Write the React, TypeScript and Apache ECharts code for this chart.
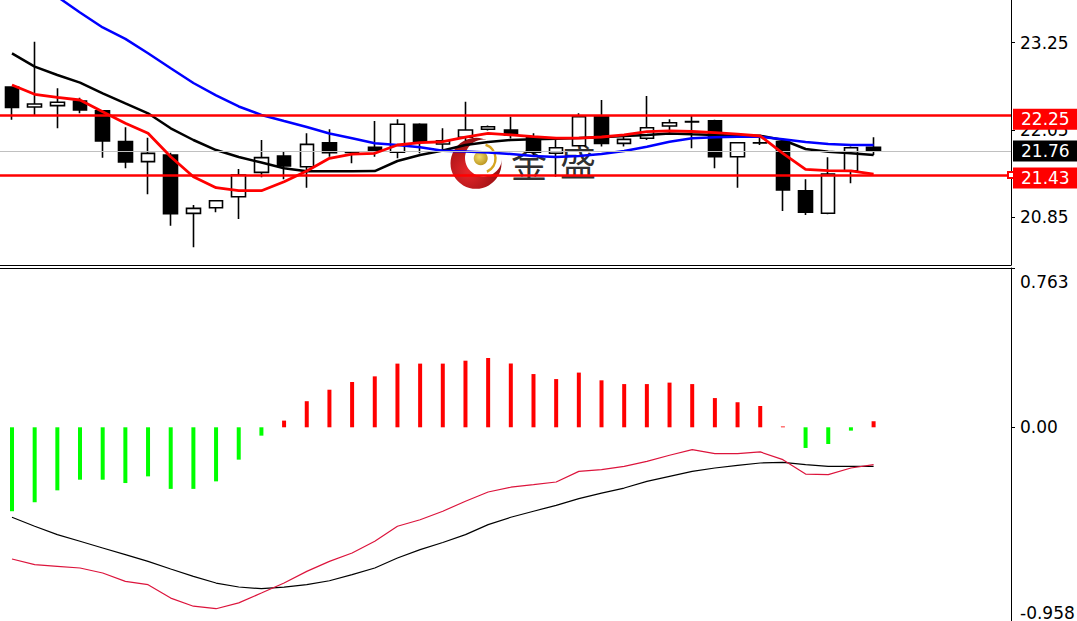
import React, { useEffect, useRef } from "react";
import * as echarts from "echarts";

// ---- price candles ----
const opens = [22.64, 22.365, 22.383, 22.447, 22.314, 21.888, 21.613, 21.705, 20.902, 20.98, 21.131, 21.466, 21.691, 21.544, 21.874, 21.746, 21.81, 21.742, 22.127, 21.856, 21.948, 22.058, 22.048, 21.956, 21.728, 21.832, 22.231, 21.865, 21.934, 22.103, 22.163, 22.176, 21.681, 21.874, 21.888, 21.214, 20.903, 21.489, 21.81];
const closes = [22.36, 22.406, 22.429, 22.323, 21.897, 21.608, 21.727, 20.898, 20.971, 21.076, 21.43, 21.668, 21.553, 21.851, 21.736, 21.74, 21.764, 22.127, 21.887, 21.901, 22.048, 22.094, 21.98, 21.743, 21.805, 22.231, 21.865, 21.92, 22.08, 22.149, 22.16, 21.681, 21.874, 21.87, 21.223, 20.917, 21.443, 21.805, 21.759];
const lows = [22.19, 22.255, 22.072, 22.278, 21.667, 21.521, 21.164, 20.733, 20.435, 20.917, 20.824, 21.398, 21.37, 21.255, 21.682, 21.59, 21.682, 21.659, 21.728, 21.75, 21.9, 22.04, 21.93, 21.7, 21.406, 21.82, 21.82, 21.82, 21.91, 22.011, 21.797, 21.522, 21.255, 21.842, 20.934, 20.879, 20.889, 21.315, 21.705];
const highs = [22.65, 23.263, 22.622, 22.493, 22.32, 22.085, 21.943, 21.737, 21.017, 21.08, 21.512, 21.911, 21.759, 22.002, 22.057, 21.76, 22.172, 22.196, 22.14, 22.072, 22.438, 22.11, 22.231, 22.002, 21.92, 22.278, 22.461, 21.957, 22.516, 22.195, 22.241, 22.19, 21.88, 21.966, 21.9, 21.37, 21.673, 21.82, 21.948];

// ---- moving averages ----
const maRed = [22.667, 22.539, 22.498, 22.461, 22.3, 22.14, 22.003, 21.681, 21.406, 21.255, 21.214, 21.214, 21.337, 21.485, 21.659, 21.718, 21.728, 21.842, 21.874, 21.887, 21.952, 22.003, 21.98, 21.956, 21.938, 21.938, 21.952, 21.98, 22.025, 22.035, 22.028, 22.011, 21.993, 21.966, 21.728, 21.508, 21.489, 21.485, 21.443];
const maBlack = [23.103, 22.919, 22.805, 22.699, 22.553, 22.415, 22.278, 22.072, 21.911, 21.773, 21.677, 21.601, 21.522, 21.48, 21.48, 21.48, 21.484, 21.622, 21.705, 21.766, 21.842, 21.883, 21.911, 21.92, 21.929, 21.938, 21.948, 21.966, 21.98, 22.0, 21.989, 21.98, 21.97, 21.97, 21.911, 21.787, 21.75, 21.728, 21.705];
const maBlue = [24.32, 24.1, 23.881, 23.664, 23.458, 23.302, 23.104, 22.898, 22.695, 22.525, 22.372, 22.255, 22.172, 22.09, 22.0, 21.934, 21.865, 21.842, 21.81, 21.764, 21.753, 21.739, 21.718, 21.691, 21.677, 21.691, 21.718, 21.76, 21.819, 21.887, 21.934, 21.948, 21.956, 21.956, 21.92, 21.883, 21.856, 21.842, 21.842];

// ---- MACD ----
const macdHist = [-0.402, -0.359, -0.302, -0.251, -0.251, -0.267, -0.235, -0.295, -0.295, -0.259, -0.155, -0.04, 0.032, 0.125, 0.18, 0.217, 0.244, 0.305, 0.305, 0.305, 0.319, 0.332, 0.305, 0.255, 0.231, 0.262, 0.225, 0.207, 0.207, 0.214, 0.207, 0.14, 0.12, 0.102, 0.004, -0.099, -0.08, -0.016, 0.029];
const macdBlack = [-0.431, -0.474, -0.514, -0.546, -0.578, -0.61, -0.642, -0.679, -0.714, -0.746, -0.765, -0.773, -0.766, -0.754, -0.735, -0.706, -0.674, -0.626, -0.586, -0.552, -0.514, -0.466, -0.431, -0.402, -0.374, -0.342, -0.315, -0.291, -0.259, -0.235, -0.211, -0.195, -0.182, -0.171, -0.168, -0.179, -0.187, -0.187, -0.187];
const macdPink = [-0.631, -0.658, -0.666, -0.674, -0.698, -0.738, -0.754, -0.818, -0.857, -0.869, -0.841, -0.794, -0.746, -0.69, -0.642, -0.602, -0.546, -0.474, -0.443, -0.402, -0.354, -0.31, -0.287, -0.275, -0.262, -0.211, -0.203, -0.187, -0.163, -0.134, -0.107, -0.126, -0.126, -0.118, -0.155, -0.224, -0.227, -0.195, -0.179];

// ---- axes / levels ----
const priceTicks = [20.85, 22.05, 23.25];
const macdTicks = [-0.958, 0, 0.763];
const resistance = 22.25;
const support = 21.43;
const lastPrice = 21.76;
const PRICE_MIN = 20.192;
const PRICE_MAX = 23.836;
const MACD_MIN = -0.958;
const MACD_MAX = 0.763;
const X_MIN = -0.529;
const X_MAX = 44.06;

const FONT = "DejaVu Sans";

export default function App() {
  const ref = useRef<HTMLDivElement>(null);

  useEffect(() => {
    if (!ref.current) return;
    const chart = echarts.init(ref.current, null, { renderer: "svg" });

    const candleData = opens.map((o, i) => [i, o, closes[i], lows[i], highs[i]]);
    const toXY = (arr: number[]) => arr.map((v, i) => [i, v]);

    const levelLabel = (txt: string, bg: string, dy: number) => ({
      show: true,
      position: "end",
      distance: 2,
      formatter: txt,
      color: "#ffffff",
      backgroundColor: bg,
      fontFamily: FONT,
      fontSize: 17,
      lineHeight: 17,
      padding: [2, 14, 2, 8],
      offset: [0, dy],
      textBorderWidth: 0,
    });

    const option: any = {
      animation: false,
      backgroundColor: "#ffffff",
      grid: [
        { left: 0, right: 66, top: 0, height: 265, containLabel: false, outerBoundsMode: "none" },
        { left: 0, right: 66, top: 268, height: 359.3, containLabel: false, outerBoundsMode: "none" },
      ],
      xAxis: [
        {
          type: "value", gridIndex: 0, min: X_MIN, max: X_MAX, position: "bottom",
          axisLine: { show: true, onZero: false, lineStyle: { color: "#000", width: 1 } },
          axisTick: { show: false }, axisLabel: { show: false }, splitLine: { show: false },
        },
        {
          type: "value", gridIndex: 1, min: X_MIN, max: X_MAX, position: "top",
          axisLine: { show: true, onZero: false, lineStyle: { color: "#000", width: 1 } },
          axisTick: { show: false }, axisLabel: { show: false }, splitLine: { show: false },
        },
      ],
      yAxis: [
        {
          type: "value", gridIndex: 0, position: "right", min: PRICE_MIN, max: PRICE_MAX,
          axisLine: { show: true, onZero: false, lineStyle: { color: "#000", width: 1 } },
          axisTick: { show: true, length: 4, customValues: priceTicks, lineStyle: { color: "#000" } },
          axisLabel: {
            customValues: priceTicks, formatter: (v: number) => v.toFixed(2),
            color: "#000", fontFamily: FONT, fontSize: 17, margin: 9,
          },
          splitLine: { show: false },
        },
        {
          type: "value", gridIndex: 1, position: "right", min: MACD_MIN, max: MACD_MAX,
          axisLine: { show: true, onZero: false, lineStyle: { color: "#000", width: 1 } },
          axisTick: { show: true, length: 4, customValues: macdTicks, lineStyle: { color: "#000" } },
          axisLabel: {
            customValues: macdTicks,
            formatter: (v: number) => {
              if (Math.abs(v - MACD_MAX) < 1e-6) return "{t|" + v.toFixed(3) + "}";
              if (Math.abs(v - MACD_MIN) < 1e-6) return "{b|" + v.toFixed(3) + "}";
              return "{m|" + v.toFixed(2) + "}";
            },
            color: "#000", fontFamily: FONT, fontSize: 17, margin: 9,
            rich: {
              t: { fontFamily: FONT, fontSize: 17, color: "#000", padding: [27, 0, 0, 0] },
              b: { fontFamily: FONT, fontSize: 17, color: "#000", padding: [0, 0, 28, 0] },
              m: { fontFamily: FONT, fontSize: 17, color: "#000" },
            },
          },
          splitLine: { show: false },
        },
      ],
      series: [
        {
          type: "candlestick",
          name: "price",
          xAxisIndex: 0, yAxisIndex: 0,
          data: candleData,
          encode: { x: 0, y: [1, 2, 3, 4] },
          barWidth: 14,
          z: 2,
          itemStyle: {
            color: "#ffffff", color0: "#000000",
            borderColor: "#000000", borderColor0: "#000000", borderColorDoji: "#000000",
            borderWidth: 1.6,
          },
          markLine: {
            silent: true,
            animation: false,
            symbol: ["none", "none"],
            data: [
              [
                { coord: [X_MIN, lastPrice], symbol: "none", lineStyle: { color: "#c0c0c0", width: 1, type: "solid" }, label: levelLabel(lastPrice.toFixed(2), "#000000", 0) },
                { coord: [X_MAX, lastPrice], symbol: "none" },
              ],
              [
                { coord: [X_MIN, resistance], symbol: "none", lineStyle: { color: "#ff0000", width: 2.5, type: "solid" }, label: levelLabel(resistance.toFixed(2), "#ff0000", 4) },
                { coord: [X_MAX, resistance], symbol: "none" },
              ],
              [
                { coord: [X_MIN, support], symbol: "none", lineStyle: { color: "#ff0000", width: 2.5, type: "solid" }, label: levelLabel(support.toFixed(2), "#ff0000", 3) },
                { coord: [X_MAX, support], symbol: "emptyRect", symbolSize: 6 },
              ],
            ],
          },
        },
        {
          type: "line", name: "MA black", xAxisIndex: 0, yAxisIndex: 0, data: toXY(maBlack),
          symbol: "none", showSymbol: false, z: 3, clip: true,
          lineStyle: { color: "#000000", width: 2.5 },
        },
        {
          type: "line", name: "MA blue", xAxisIndex: 0, yAxisIndex: 0, data: toXY(maBlue),
          symbol: "none", showSymbol: false, z: 4, clip: true,
          lineStyle: { color: "#0000ff", width: 2.5 },
        },
        {
          type: "line", name: "MA red", xAxisIndex: 0, yAxisIndex: 0, data: toXY(maRed),
          symbol: "none", showSymbol: false, z: 5, clip: true,
          lineStyle: { color: "#ff0000", width: 2.8 },
        },
        {
          type: "bar", name: "MACD", xAxisIndex: 1, yAxisIndex: 1, data: toXY(macdHist),
          barWidth: 4,
          itemStyle: {
            color: (p: any) => (p.value[1] >= 0 ? "#ff0000" : "#00ff00"),
          },
        },
        {
          type: "line", name: "MACD black", xAxisIndex: 1, yAxisIndex: 1, data: toXY(macdBlack),
          symbol: "none", showSymbol: false, z: 3,
          lineStyle: { color: "#000000", width: 1.2 },
        },
        {
          type: "line", name: "MACD pink", xAxisIndex: 1, yAxisIndex: 1, data: toXY(macdPink),
          symbol: "none", showSymbol: false, z: 4,
          lineStyle: { color: "#dc143c", width: 1.2 },
        },
      ],
      graphic: [
        {
          type: "group",
          z: 100,
          children: [
            {
              type: "circle",
              shape: { cx: 476, cy: 163.3, r: 25.5 },
              style: {
                fill: new echarts.graphic.RadialGradient(0.35, 0.65, 0.75, [
                  { offset: 0, color: "#e8262a" },
                  { offset: 1, color: "#8a0b0e" },
                ]),
              },
            },
            { type: "circle", shape: { cx: 483.5, cy: 158, r: 18.5 }, style: { fill: "#ffffff" } },
            {
              type: "arc",
              shape: { cx: 481, cy: 158.5, r: 14.5, startAngle: -1.25, endAngle: 1.15 },
              style: { stroke: "#d6a520", lineWidth: 2.5, fill: null },
            },
            {
              type: "circle",
              shape: { cx: 480.7, cy: 158.3, r: 7 },
              style: {
                fill: new echarts.graphic.RadialGradient(0.4, 0.4, 0.7, [
                  { offset: 0, color: "#f3dc6a" },
                  { offset: 1, color: "#b58d18" },
                ]),
              },
            },
            {
              type: "text", x: 511, y: 162,
              style: { text: "金", fontSize: 36, fontFamily: "Noto Sans CJK SC", fill: "#303030", align: "left", verticalAlign: "middle" },
            },
            {
              type: "text", x: 560, y: 160,
              style: { text: "盛", fontSize: 36, fontFamily: "Noto Sans CJK SC", fill: "#303030", align: "left", verticalAlign: "middle" },
            },
          ],
        },
      ],
    };

    chart.setOption(option);
    return () => chart.dispose();
  }, []);

  return (
    <div
      ref={ref}
      style={{ position: "fixed", left: 0, top: 0, width: 1077, height: 630, background: "#ffffff" }}
    />
  );
}
